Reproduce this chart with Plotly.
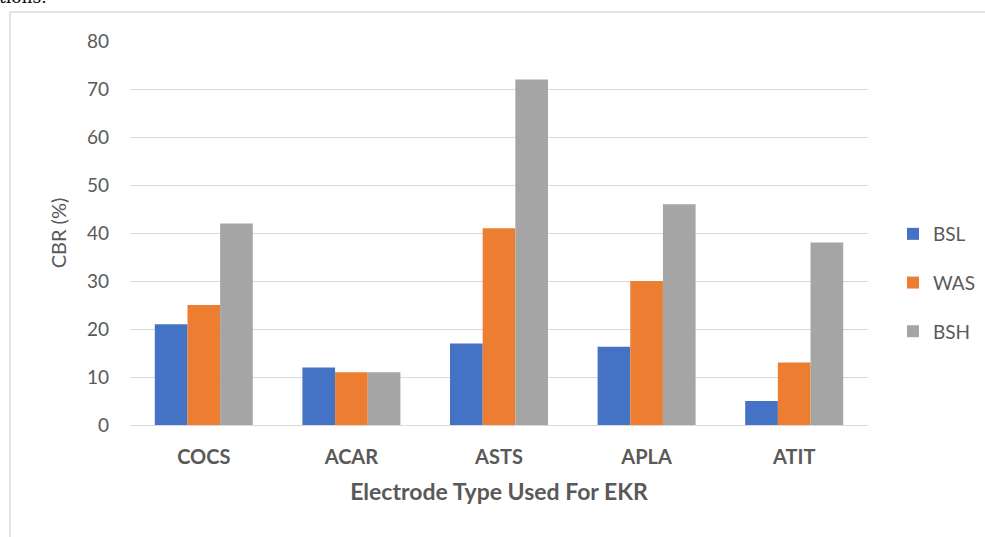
import plotly.graph_objects as go

categories = ["COCS", "ACAR", "ASTS", "APLA", "ATIT"]
bsl = [21, 12, 17, 16.3, 5]
was = [25, 11, 41, 30, 13]
bsh = [42, 11, 72, 46, 38]
y_ticks = [0, 10, 20, 30, 40, 50, 60, 70, 80]

series = [("BSL", bsl, "#4472C4"), ("WAS", was, "#ED7D31"), ("BSH", bsh, "#A5A5A5")]

W, H = 985, 537
L, R, T, B = 130, 117, 41, 112
pw, ph = W - L - R, H - T - B

fig = go.Figure()
for name, vals, color in series:
    fig.add_trace(go.Bar(
        x=categories, y=vals, name=name, marker_color=color,
        marker_line_width=0, legendgroup=name,
    ))

font = "Lato, 'Open Sans', sans-serif"
grey = "#595959"

# outer chart frame (left and top edges)
fx = (10 - L) / pw
fy = (H - B - 12) / ph
fig.add_shape(type="line", xref="paper", yref="paper", x0=fx, x1=fx, y0=fy, y1=-1,
              line=dict(color="#d9d9d9", width=1.5))
fig.add_shape(type="line", xref="paper", yref="paper", x0=fx, x1=2, y0=fy, y1=fy,
              line=dict(color="#d9d9d9", width=1.5))

# tail of the caption line above the chart
fig.add_annotation(text="tions.", xref="paper", yref="paper",
                   x=(-3 - L) / pw, y=(H - B - 9) / ph, xanchor="left", yanchor="bottom",
                   showarrow=False, font=dict(family="'DejaVu Serif', serif", size=17, color="#000"))

fig.update_layout(
    width=W, height=H,
    margin=dict(l=L, r=R, t=T, b=B, autoexpand=False),
    paper_bgcolor="white", plot_bgcolor="white",
    barmode="group", bargap=0.336, bargroupgap=0,
    font=dict(family=font, color=grey, size=19),
    legend=dict(x=(893 - L) / pw, y=(H - B - 215) / ph, xanchor="left", yanchor="top",
                font=dict(size=19, color=grey), tracegroupgap=21,
                itemclick=False, bgcolor="rgba(0,0,0,0)"),
    xaxis=dict(
        tickfont=dict(size=20, color=grey, family=font, weight="bold"),
        showgrid=False, showline=True, linecolor="#d9d9d9", linewidth=1,
        ticks="", ticklabelstandoff=14,
        title=dict(text="<b>Electrode Type Used For EKR</b>", standoff=16,
                   font=dict(size=23, color=grey, family=font)),
    ),
    yaxis=dict(
        range=[0, 80], tickvals=y_ticks, showgrid=True, gridcolor="#d9d9d9", gridwidth=1,
        zeroline=False, showline=False, ticks="", ticklabelstandoff=20,
        tickfont=dict(size=19, color=grey, family=font),
        title=dict(text="CBR (%)", standoff=14, font=dict(size=20, color=grey, family=font)),
    ),
)

fig.write_html("out.html")
